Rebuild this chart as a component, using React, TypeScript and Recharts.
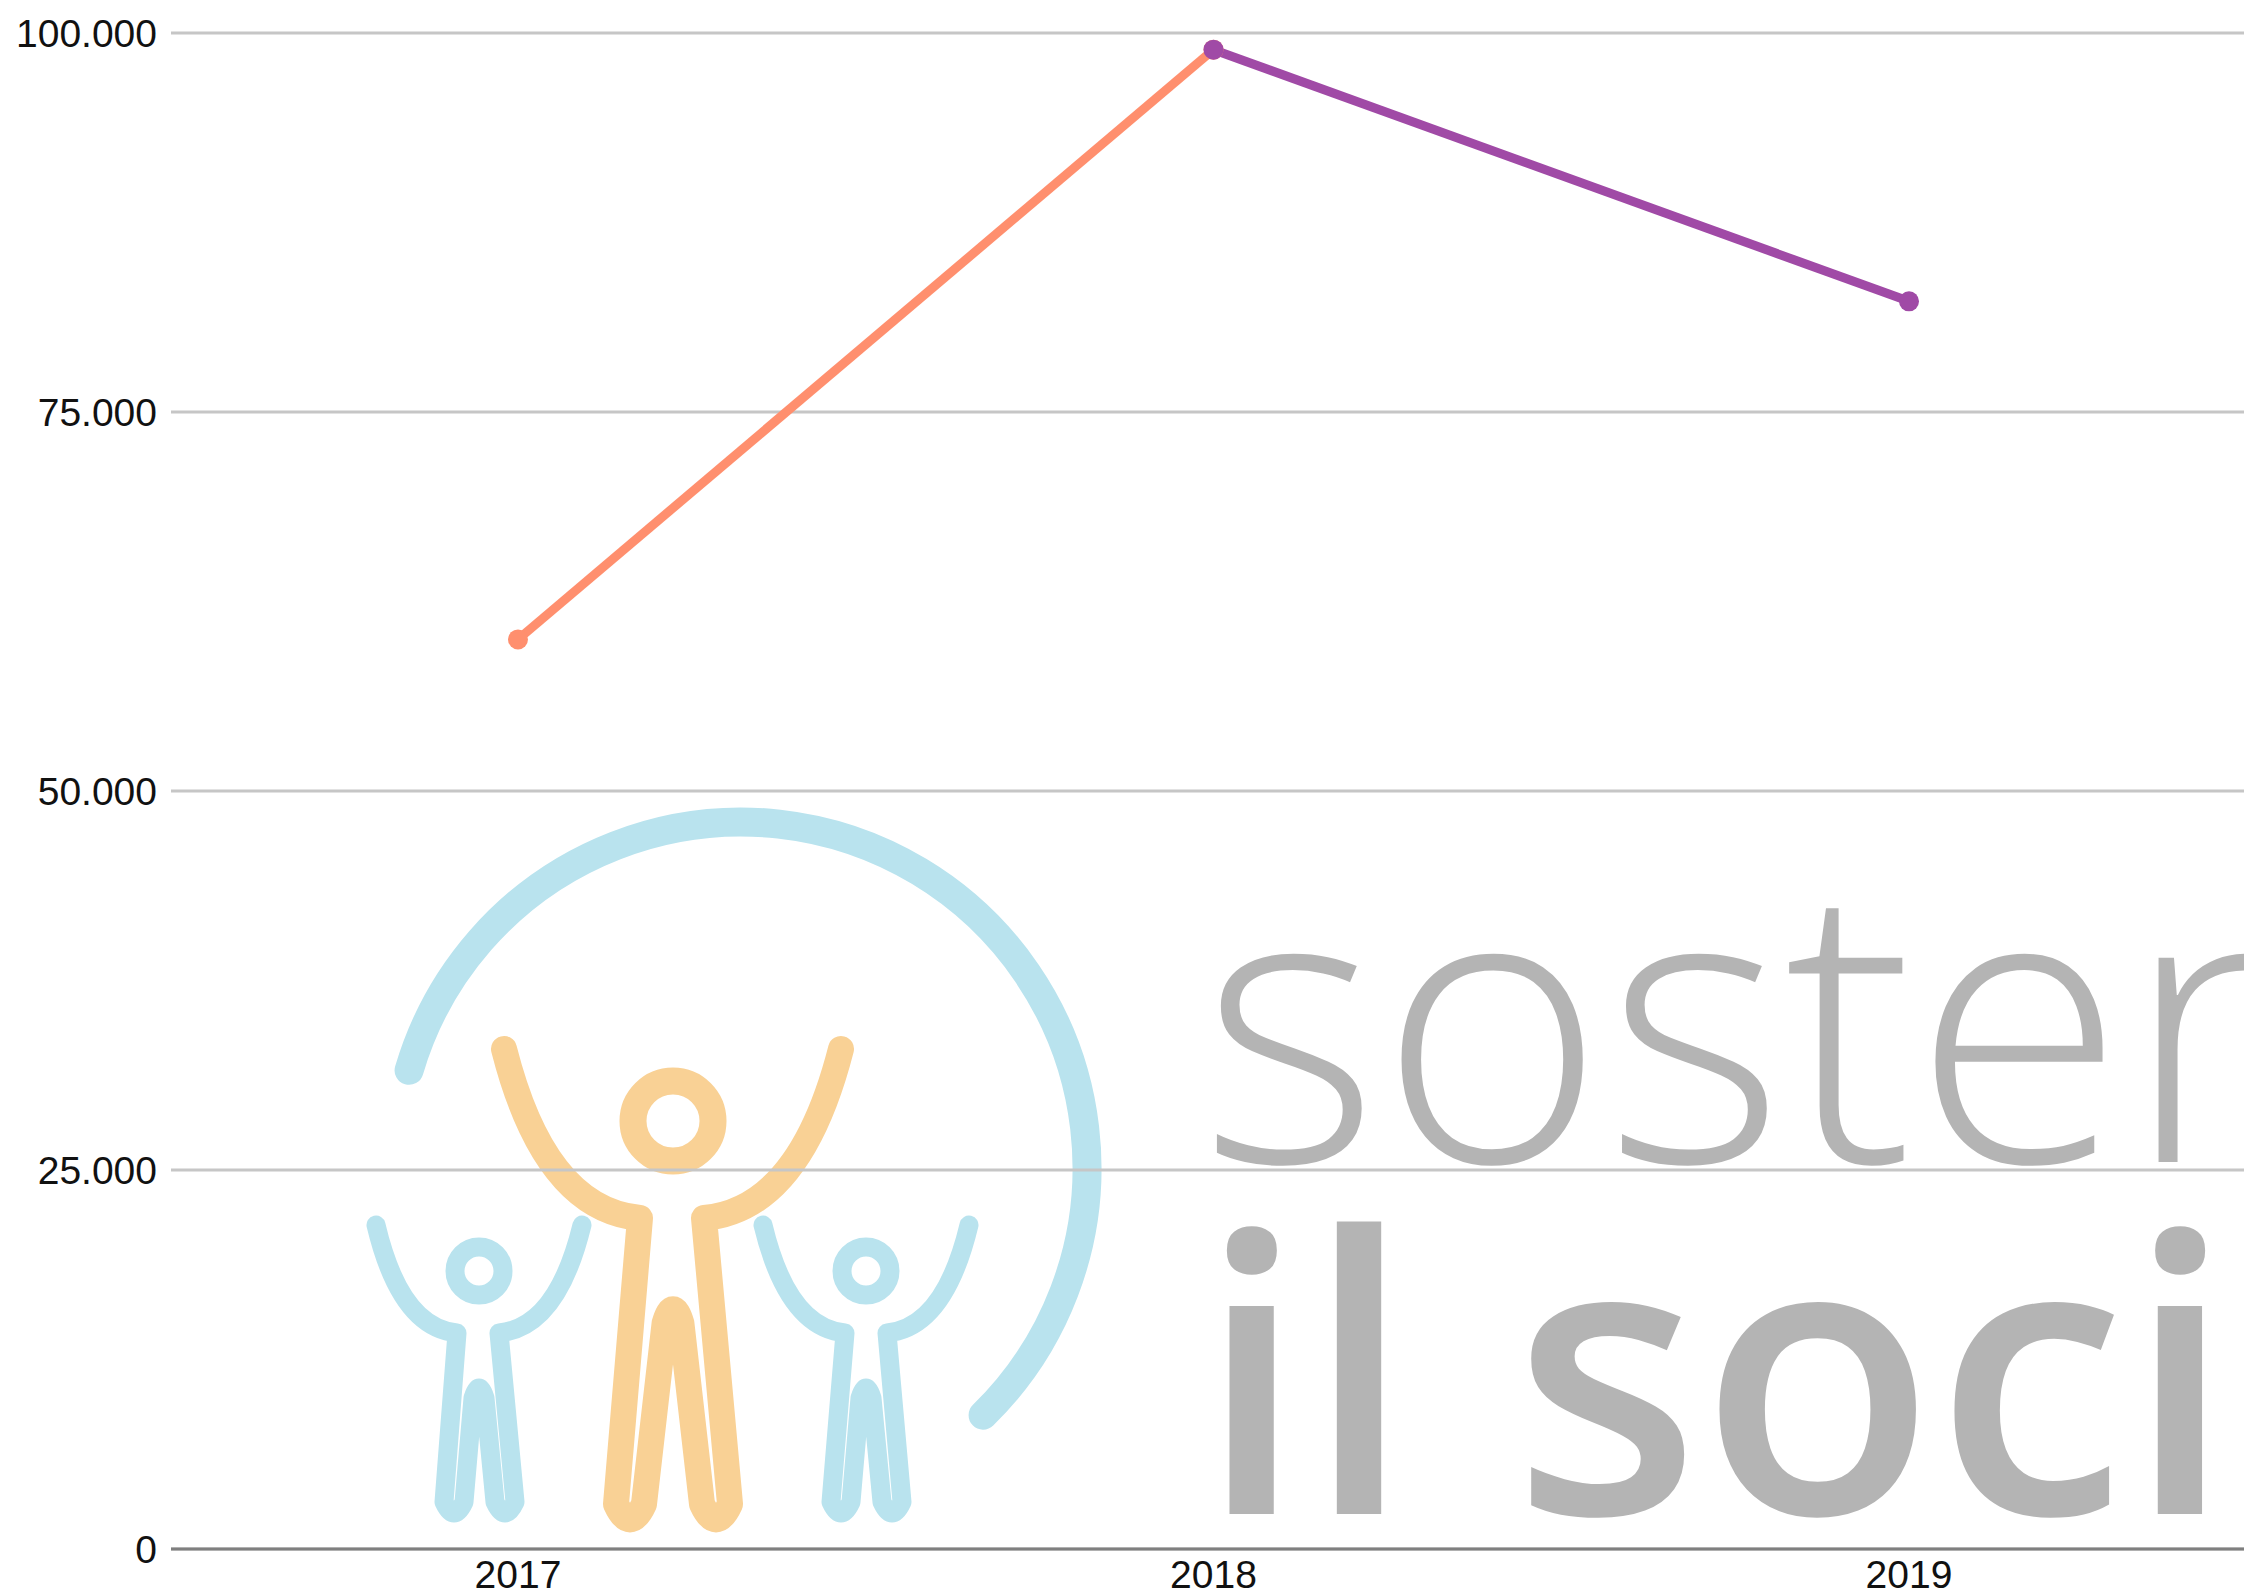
import React from 'react';
import { LineChart, Line, XAxis, YAxis, CartesianGrid } from 'recharts';

const years = ['2017', '2018', '2019'];
const seriesOrange = [60000, 98900, null];
const seriesPurple = [null, 98900, 82300];
const yTicks = [0, 25000, 50000, 75000, 100000];

const data = years.map((y, i) => ({ year: y, a: seriesOrange[i], b: seriesPurple[i] }));

const fmt = (v: number) => String(v).replace(/\B(?=(\d{3})+(?!\d))/g, '.');

const FONT = '"Liberation Sans", Arial, sans-serif';
const W = 2244;
const H = 1592;

function arcPath(cx: number, cy: number, r: number, a0: number, a1: number) {
  const t0 = (a0 * Math.PI) / 180;
  const t1 = (a1 * Math.PI) / 180;
  const x0 = cx + r * Math.cos(t0);
  const y0 = cy + r * Math.sin(t0);
  const x1 = cx + r * Math.cos(t1);
  const y1 = cy + r * Math.sin(t1);
  const large = a1 - a0 > 180 ? 1 : 0;
  return `M${x0},${y0} A${r},${r} 0 ${large} 1 ${x1},${y1}`;
}

function figurePath(f: { hl: number[]; hr: number[]; sl: number[]; sr: number[]; fl: number[]; fr: number[]; c: number[]; w: number }) {
  const [hlx, hly] = f.hl;
  const [hrx, hry] = f.hr;
  const [slx, sly] = f.sl;
  const [srx, sry] = f.sr;
  const [flx, fly] = f.fl;
  const [frx, fry] = f.fr;
  const [cx, cy] = f.c;
  const w = f.w;
  return [
    `M${hlx},${hly}`,
    `Q${hlx + (slx - hlx) * 0.3},${sly - (sly - hly) * 0.05} ${slx},${sly}`,
    `L${flx - w},${fly - w}`,
    `Q${flx},${fly + w * 1.2} ${flx + w},${fly - w}`,
    `L${cx - w * 0.6},${cy + w * 0.8}`,
    `Q${cx},${cy - w * 1.2} ${cx + w * 0.6},${cy + w * 0.8}`,
    `L${frx - w},${fry - w}`,
    `Q${frx},${fry + w * 1.2} ${frx + w},${fry - w}`,
    `L${srx},${sry}`,
    `Q${hrx - (hrx - srx) * 0.3},${sry - (sry - hry) * 0.05} ${hrx},${hry}`,
  ].join(' ');
}

const Watermark = () => {
  const blue = '#b9e3ee';
  const orange = '#f9d195';
  const grey = '#b4b4b4';
  const orangeFig = { hl: [504, 1049], hr: [841, 1049], sl: [640, 1218], sr: [704, 1218], fl: [630, 1518], fr: [716, 1518], c: [673, 1312], w: 14 };
  const leftFig = { hl: [376, 1225], hr: [582, 1225], sl: [457, 1333], sr: [499, 1333], fl: [454, 1512], fr: [505, 1512], c: [479, 1390], w: 10 };
  const rightFig = { hl: [763, 1225], hr: [969, 1225], sl: [845, 1333], sr: [887, 1333], fl: [841, 1512], fr: [892, 1512], c: [866, 1390], w: 10 };
  return (
    <svg width={W} height={H} style={{ position: 'absolute', left: 0, top: 0 }}>
      <path d={arcPath(741, 1168, 346, 196.4, 405.6)} fill="none" stroke={blue} strokeWidth={29} strokeLinecap="round" />
      <circle cx={673} cy={1121} r={40} fill="none" stroke={orange} strokeWidth={27} />
      <path d={figurePath(orangeFig)} fill="none" stroke={orange} strokeWidth={26} strokeLinecap="round" strokeLinejoin="round" />
      <circle cx={479} cy={1271} r={24} fill="none" stroke={blue} strokeWidth={19} />
      <path d={figurePath(leftFig)} fill="none" stroke={blue} strokeWidth={19} strokeLinecap="round" strokeLinejoin="round" />
      <circle cx={866} cy={1271} r={24} fill="none" stroke={blue} strokeWidth={19} />
      <path d={figurePath(rightFig)} fill="none" stroke={blue} strokeWidth={19} strokeLinecap="round" strokeLinejoin="round" />
      <text x={1200} y={1162} fill={grey} fontFamily='"Open Sans", sans-serif' fontWeight={300} fontSize={385}>
        sostenere
      </text>
      <text x={1198} y={1514} fill={grey} fontFamily='"Open Sans", sans-serif' fontWeight={600} fontSize={385}>
        il sociale
      </text>
    </svg>
  );
};

export default function App() {
  return (
    <div style={{ position: 'absolute', left: 0, top: 0, width: W, height: H, overflow: 'hidden', background: '#fff' }}>
      <Watermark />
      <div style={{ position: 'absolute', left: 0, top: 0 }}>
        <LineChart width={W} height={H} data={data} margin={{ top: 33, right: 0, bottom: 0, left: 0 }}>
          <CartesianGrid vertical={false} stroke="#c6c6c6" strokeWidth={3} />
          <XAxis
            dataKey="year"
            padding={{ left: 347, right: 335 }}
            axisLine={{ stroke: '#7f7f7f', strokeWidth: 3 }}
            tickLine={false}
            tickSize={0}
            tickMargin={11}
            height={43}
            tick={{ fontSize: 39, fill: '#111', fontFamily: FONT }}
          />
          <YAxis
            domain={[0, 100000]}
            ticks={yTicks}
            tickFormatter={fmt}
            width={171}
            axisLine={false}
            tickLine={false}
            tickSize={0}
            tickMargin={14}
            tick={{ fontSize: 39, fill: '#111', fontFamily: FONT }}
          />
          <Line
            dataKey="a"
            stroke="#ff8f6e"
            strokeWidth={9}
            dot={{ r: 10, fill: '#ff8f6e', stroke: '#ff8f6e', strokeWidth: 0 }}
            activeDot={false}
            isAnimationActive={false}
            connectNulls={false}
          />
          <Line
            dataKey="b"
            stroke="#a04aa6"
            strokeWidth={9}
            dot={{ r: 10, fill: '#a04aa6', stroke: '#a04aa6', strokeWidth: 0 }}
            activeDot={false}
            isAnimationActive={false}
            connectNulls={false}
          />
        </LineChart>
      </div>
    </div>
  );
}
